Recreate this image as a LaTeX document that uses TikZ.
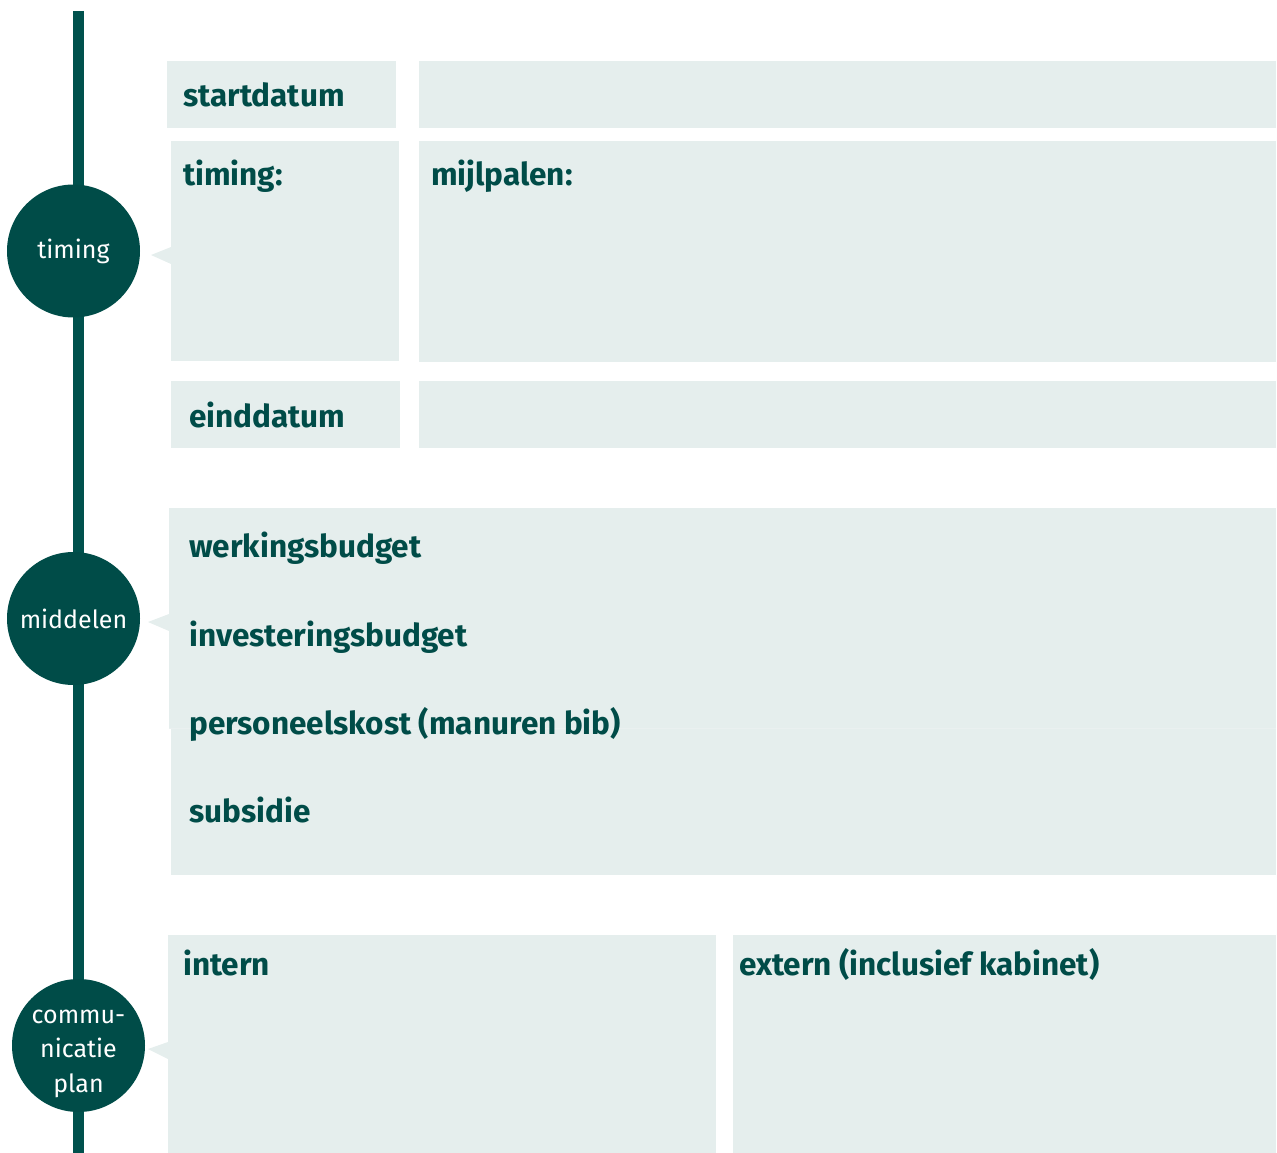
\documentclass[tikz,border=0pt]{standalone}
\usepackage{fontspec}
\setmainfont{Fira Sans}
\usepackage{tikz}

\definecolor{donker}{HTML}{004C48}
\definecolor{lijn}{HTML}{00514D}
\definecolor{vakkleur}{HTML}{E5EEED}

\tikzset{
  vak/.style={fill=vakkleur, draw=none, inner sep=0pt, anchor=north west},
  kop/.style={text=donker, font=\fontsize{31.5}{36}\selectfont\bfseries, inner sep=0pt, anchor=base west},
  bol/.style={circle, fill=donker, text=white, minimum size=133pt, inner sep=0pt,
    align=center, font=\fontsize{25}{35}\selectfont},
  boltekst/.style={text=white, inner sep=0pt, align=center, font=\fontsize{25}{34.5}\selectfont}
}

\begin{document}
\begin{tikzpicture}[x=1pt,y=-1pt]
\useasboundingbox (0,0) rectangle (1277,1153);

% tijdlijn
\coordinate (boven) at (78,11);
\coordinate (onder) at (78,1153);
\draw[lijn, line width=11pt] (boven) -- (onder);

% timing
\node[vak, minimum width=229pt, minimum height=67pt] (startvak) at (167,61) {};
\node[vak, minimum width=857pt, minimum height=67pt] (startveld) at (419,61) {};
\node[vak, minimum width=228pt, minimum height=220pt] (timingvak) at (171,141) {};
\node[vak, minimum width=857pt, minimum height=221pt] (mijlvak) at (419,141) {};
\node[vak, minimum width=229pt, minimum height=67pt] (eindvak) at (171,381) {};
\node[vak, minimum width=857pt, minimum height=67pt] (eindveld) at (419,381) {};

\node[kop] (start) at (183,107) {startdatum};
\node[kop] (timingkop) at (183,185) {timing:};
\node[kop] (mijl) at (431,185) {mijlpalen:};
\node[kop] (eind) at (189,427) {einddatum};

% middelen
\node[vak, minimum width=1107pt, minimum height=220pt] (budgetvak) at (169,508) {};
\node[vak, minimum width=1105pt, minimum height=147pt] (subsidievak) at (171,728) {};
\draw[vakkleur!80!donker!30, line width=0.6pt] (budgetvak.south west) -- (budgetvak.south east);

\node[kop] (werking) at (189,557) {werkingsbudget};
\node[kop] (invest) at (189,646) {investeringsbudget};
\node[kop] (personeel) at (189,734) {personeelskost (manuren bib)};
\node[kop] (subsidie) at (189,822) {subsidie};

% communicatie
\node[vak, minimum width=548pt, minimum height=218pt] (internvak) at (168,935) {};
\node[vak, minimum width=543pt, minimum height=218pt] (externvak) at (733,935) {};

\node[kop] (intern) at (183,975) {intern};
\node[kop] (extern) at (739,975) {extern (inclusief kabinet)};

% pijltjes
\fill[vakkleur] (151,255) -- (171,247) -- (171,264) -- cycle;
\fill[vakkleur] (148,622) -- (169,614) -- (169,631) -- cycle;
\fill[vakkleur] (148,1049) -- (168,1042) -- (168,1059) -- cycle;

% bollen
\node[bol] (timing) at (73.5,251) {timing};
\node[bol] (middelen) at (73.5,618.5) {middelen};
\node[bol] (communicatie) at (78.5,1045.5) {};
\node[boltekst] (commtekst) at ([yshift=-8pt]communicatie.center) {commu-\\nicatie\\plan};
\end{tikzpicture}
\end{document}
